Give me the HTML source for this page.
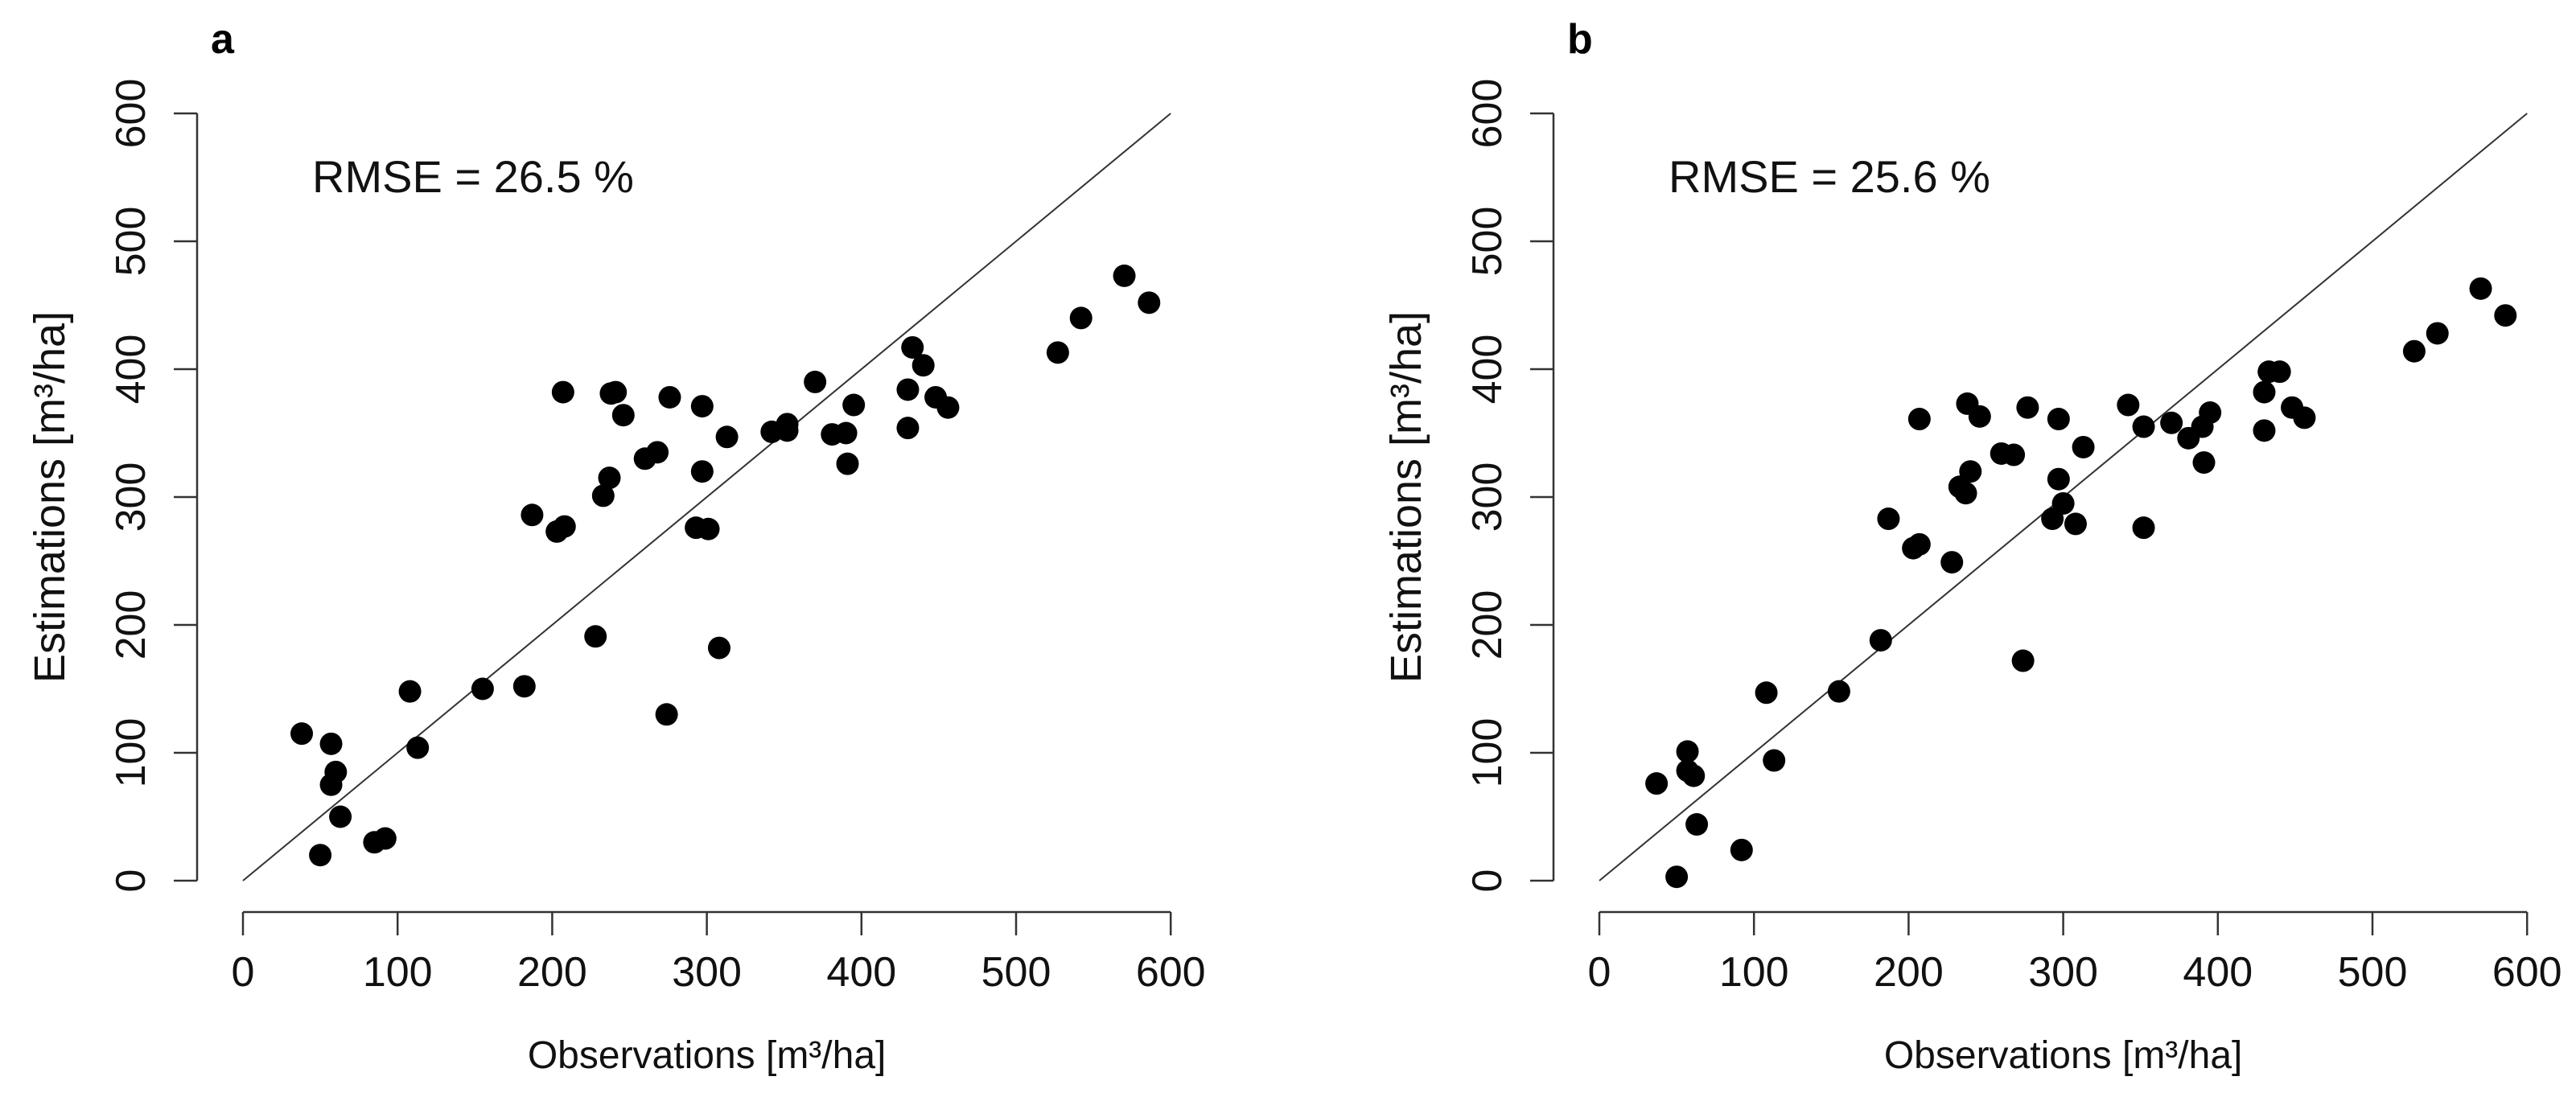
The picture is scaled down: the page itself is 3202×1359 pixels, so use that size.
<!DOCTYPE html>
<html><head><meta charset="utf-8"><style>
html,body{margin:0;padding:0;background:#fff;}
svg{display:block;font-family:"Liberation Sans",Arial,sans-serif;}
</style></head><body>
<svg id="chart" width="3202" height="1359" viewBox="0 0 3202 1359"></svg>
<script>
const ticks = [0,100,200,300,400,500,600];
const obsA = [38,57,57,60,63,50,85,92,108,113,155,182,187,203,208,207,228,233,237,238,241,246,260,268,274,276,293,297,297,301,308,313,342,352,352,370,381,390,391,395,430,430,433,440,448,456,527,542,570,586];
const estA = [115,107,75,85,50,20,30,33,148,104,150,152,286,273,277,382,191,301,315,381,382,364,330,335,130,378,276,371,320,275,182,347,351,352,357,390,349,350,326,372,384,354,417,403,378,370,413,440,473,452];
const obsB = [37,57,57,61,63,50,92,108,113,155,182,187,203,207,207,228,233,237,238,240,246,260,268,274,277,293,297,297,300,308,313,342,352,352,370,381,390,391,395,430,430,433,440,448,456,527,542,570,586];
const estB = [76,101,86,82,44,3,24,147,94,148,188,283,260,263,361,249,308,303,373,320,363,334,333,172,370,283,361,314,295,279,339,372,355,276,358,346,355,327,366,382,352,398,398,370,362,414,428,463,442];
const panels = [
  {id:'a', offset:0, obs:obsA, est:estA, rmse:'RMSE = 26.5 %'},
  {id:'b', offset:1686, obs:obsB, est:estB, rmse:'RMSE = 25.6 %'}
];
const NS='http://www.w3.org/2000/svg';
const svg=document.getElementById('chart');
function mk(tag, attrs, parent){
  const e=document.createElementNS(NS,tag);
  for(const k in attrs) e.setAttribute(k, attrs[k]);
  (parent||svg).appendChild(e);
  return e;
}
panels.forEach(p=>{
  const X0=302+p.offset, XS=1.922, Y0=1095, YS=1.59;
  const sx=v=>X0+v*XS, sy=v=>Y0-v*YS;
  const AX=X0-57, AY=1134;
  const g=mk('g',{});
  
  
  const ya=mk('line',{x1:AX,y1:sy(0),x2:AX,y2:sy(600),stroke:'#333','stroke-width':2.5},g);
  
  
  const xa=mk('line',{x1:sx(0),y1:AY,x2:sx(600),y2:AY,stroke:'#333','stroke-width':2.5},g);
  
  
  ticks.forEach(t=>{
    const yt=mk('line',{x1:AX,y1:sy(t),x2:AX-29,y2:sy(t),stroke:'#333','stroke-width':2.5},g);
    
    
    const yl=mk('text',{x:0,y:0,'font-size':52,'text-anchor':'middle',fill:'#111',transform:`translate(${X0-122},${sy(t)}) rotate(-90)`},g);
    yl.textContent=t;
    
    
    const xt=mk('line',{x1:sx(t),y1:AY,x2:sx(t),y2:AY+29,stroke:'#333','stroke-width':2.5},g);
    
    
    const xl=mk('text',{x:sx(t),y:1226,'font-size':52,'text-anchor':'middle',fill:'#111'},g);
    xl.textContent=t;
    
    
  });
  const xt=mk('text',{x:sx(300),y:1328,'font-size':48,'text-anchor':'middle',fill:'#111'},g);
  xt.textContent='Observations [m³/ha]';
  
  
  const yt=mk('text',{x:0,y:0,'font-size':54,'text-anchor':'middle',fill:'#111',transform:`translate(${X0-222},${sy(300)}) rotate(-90)`},g);
  yt.textContent='Estimations [m³/ha]';
  
  
  const lab=mk('text',{x:X0-40,y:66,'font-size':52,'font-weight':'bold',fill:'#000'},g);
  lab.textContent=p.id;
  
  
  const rm=mk('text',{x:X0+86,y:239,'font-size':56,fill:'#111'},g);
  rm.textContent=p.rmse;
  
  
  const ref=mk('line',{x1:sx(0),y1:sy(0),x2:sx(600),y2:sy(600),stroke:'#333','stroke-width':2},g);
  
  
  p.obs.forEach((o,i)=>{
    const c=mk('circle',{cx:sx(o),cy:sy(p.est[i]),r:14,fill:'#000'},g);
    
    
  });
});
</script>
</body></html>
